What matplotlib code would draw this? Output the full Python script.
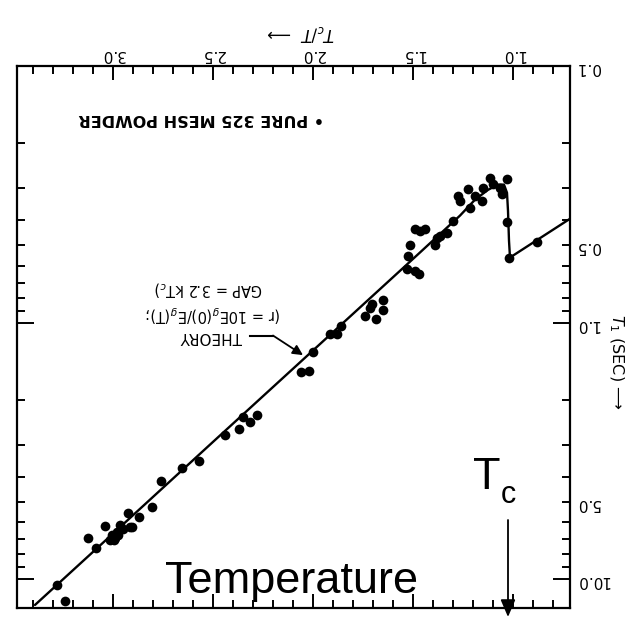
import matplotlib
matplotlib.use('Agg')
import matplotlib.pyplot as plt
from matplotlib.ticker import FixedLocator, FixedFormatter, NullFormatter

# ---- data ----
tcT_pts = [3.28, 3.24, 3.125, 3.085, 3.04, 3.005, 2.995, 2.98, 2.965, 2.95, 2.99, 3.015,
           2.975, 2.925, 2.915, 2.905, 2.87, 2.805, 2.76, 2.655, 2.57, 2.44, 2.37, 2.35,
           2.315, 2.28, 2.06, 2.02, 2.00, 1.915, 1.88, 1.86, 1.74, 1.715, 1.705, 1.685,
           1.65, 1.65, 1.53, 1.525, 1.515, 1.49, 1.47, 1.49, 1.465, 1.44, 1.39, 1.38,
           1.365, 1.33, 1.30, 1.275, 1.265, 1.225, 1.215, 1.19, 1.155, 1.15, 1.115, 1.10,
           1.065, 1.055, 1.03, 1.03, 1.02, 0.88]
t1_pts = [10.55, 12.18, 6.92, 7.57, 6.22, 6.74, 7.05, 6.56, 6.17, 6.39, 6.9, 7.05,
          6.74, 5.53, 6.28, 6.28, 5.74, 5.25, 4.16, 3.70, 3.47, 2.75, 2.61, 2.34,
          2.45, 2.30, 1.56, 1.55, 1.30, 1.11, 1.11, 1.03, 0.94, 0.875, 0.85, 0.965,
          0.82, 0.89, 0.617, 0.548, 0.50, 0.628, 0.645, 0.431, 0.439, 0.431, 0.50, 0.467,
          0.458, 0.447, 0.401, 0.321, 0.335, 0.301, 0.357, 0.321, 0.335, 0.298, 0.273, 0.288,
          0.298, 0.315, 0.275, 0.405, 0.558, 0.484]

theory_tcT = [3.39, 3.0, 2.5, 2.0, 1.5, 1.265, 1.19, 1.125, 1.075, 1.045, 1.03, 1.025, 1.02, 1.015, 0.715]
theory_t1 = [12.62, 6.65, 2.92, 1.285, 0.565, 0.383, 0.332, 0.304, 0.290, 0.290, 0.312, 0.367, 0.480, 0.558, 0.394]

x_major = [1.0, 1.5, 2.0, 2.5, 3.0]
x_major_labels = ['1.0', '1.5', '2.0', '2.5', '3.0']
x_minor = [round(0.8 + 0.1 * i, 2) for i in range(27)]
y_major = [0.1, 1.0, 10.0]
y_major_labels = ['0.1', '1.0', '10.0']
y_minor = [0.2, 0.3, 0.4, 0.5, 0.6, 0.7, 0.8, 0.9, 2, 3, 4, 5, 6, 7, 8, 9]
y_minor_labels = ['', '', '', '0.5', '', '', '', '', '', '', '', '5.0', '', '', '', '']

W, H = 635, 631
def fx(px):
    return px / W
def fy(py):
    return 1 - py / H

fig = plt.figure(figsize=(6.35, 6.31), dpi=100)
fig.patch.set_facecolor('white')
ax = fig.add_axes([fx(17), fy(608), fx(570) - fx(17), fy(66) - fy(608)])

ax.plot(theory_tcT, theory_t1, color='black', lw=1.7, solid_capstyle='round')
ax.plot(tcT_pts, t1_pts, 'o', color='black', ms=7, mew=0)

ax.set_yscale('log')
ax.set_xlim(3.48, 0.715)
ax.set_ylim(12.97, 0.1)

ax.xaxis.set_major_locator(FixedLocator(x_major))
ax.xaxis.set_major_formatter(FixedFormatter(x_major_labels))
ax.xaxis.set_minor_locator(FixedLocator(x_minor))
ax.xaxis.set_minor_formatter(NullFormatter())
ax.yaxis.set_major_locator(FixedLocator(y_major))
ax.yaxis.set_major_formatter(FixedFormatter(y_major_labels))
ax.yaxis.set_minor_locator(FixedLocator(y_minor))
ax.yaxis.set_minor_formatter(FixedFormatter(y_minor_labels))

ax.tick_params(axis='x', which='both', direction='in', top=True, bottom=True,
               labeltop=True, labelbottom=False, width=1.4, labelsize=11,
               labelrotation=180, pad=3)
ax.tick_params(axis='x', which='major', length=10)
ax.tick_params(axis='x', which='minor', length=5.5)
ax.tick_params(axis='y', which='both', direction='in', left=True, right=True,
               labelleft=False, labelright=True, width=1.4, labelsize=11,
               labelrotation=180, pad=4)
ax.tick_params(axis='y', which='major', length=12)
ax.tick_params(axis='y', which='minor', length=5.5)
for sp in ax.spines.values():
    sp.set_linewidth(1.6)

# axis titles (upside down)
fig.text(fx(301), fy(33), '$T_c/T$  \u27f6', rotation=180, ha='center', va='center', fontsize=12)
fig.text(fx(616), fy(362), '$T_1$ (SEC) \u27f6', rotation=-90, ha='center', va='center', fontsize=11.5)

# legend text
fig.text(fx(201), fy(119), '\u2022 PURE 325 MESH POWDER', rotation=180, ha='center', va='center',
         fontsize=11.5, fontweight='bold')

# theory annotation
fig.text(fx(211), fy(337), 'THEORY', rotation=180, ha='center', va='center', fontsize=11)
fig.text(fx(213), fy(313), '(r = 10E$_g$(0)/E$_g$(T);', rotation=180, ha='center', va='center', fontsize=10.5)
fig.text(fx(209), fy(288), 'GAP = 3.2 kT$_c$)', rotation=180, ha='center', va='center', fontsize=10.5)
ax.plot([2.315, 2.2], [1.124, 1.124], color='black', lw=1.5)
ax.annotate('', xy=(2.05, 1.34), xytext=(2.2, 1.124),
            arrowprops=dict(arrowstyle='-|>,head_length=0.5,head_width=0.25', color='black',
                            lw=1.3, mutation_scale=12, shrinkA=0, shrinkB=0))

# overlay annotations
fig.text(fx(165), fy(593), 'Temperature', fontsize=32.5, family='Liberation Sans',
         ha='left', va='baseline')
fig.text(fx(473), fy(489), 'T', fontsize=32.5, family='Liberation Sans', ha='left', va='baseline')
fig.text(fx(501), fy(503), 'c', fontsize=22, family='Liberation Sans', ha='left', va='baseline')
ax.annotate('', xy=(fx(508), fy(617)), xytext=(fx(508), fy(520)),
            xycoords='figure fraction', textcoords='figure fraction',
            arrowprops=dict(arrowstyle='-|>,head_length=0.7,head_width=0.3', color='black',
                            lw=1.3, mutation_scale=15, shrinkA=0, shrinkB=0))

fig.savefig('out.png', dpi=100, facecolor='white')
